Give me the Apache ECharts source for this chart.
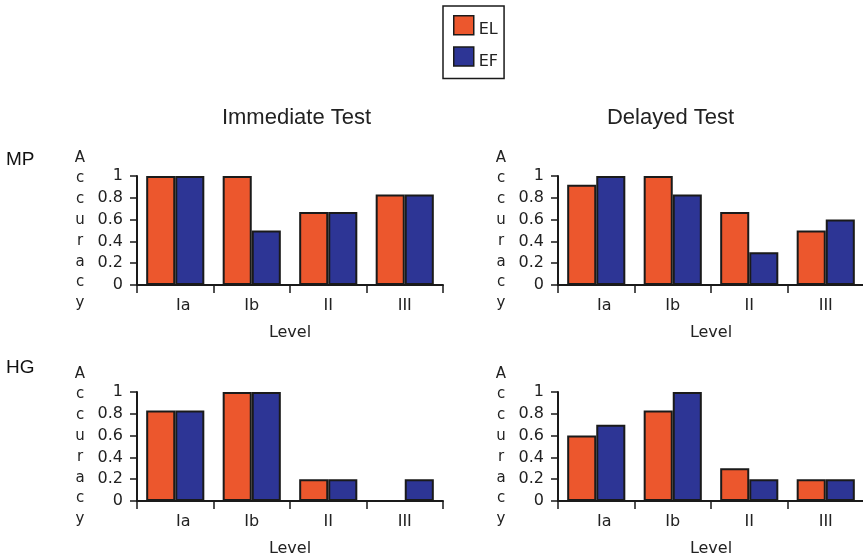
<!DOCTYPE html>
<html>
<head>
<meta charset="utf-8">
<script src="https://cdn.jsdelivr.net/npm/echarts@6/dist/echarts.min.js"></script>
<style>
html,body{margin:0;padding:0;background:#fff;}
#chart{width:863px;height:555px;}
</style>
</head>
<body>
<div id="chart"></div>
<script>
const categories = ['Ia', 'Ib', 'II', 'III'];
const seriesNames = ['EL', 'EF'];
const panelTitles = ['Immediate Test', 'Delayed Test'];
const rowLabels = ['MP', 'HG'];
const yTitle = 'Accuracy';
const xTitle = 'Level';

const mpImmediateEL = [1, 1, 0.67, 0.83];
const mpImmediateEF = [1, 0.5, 0.67, 0.83];
const mpDelayedEL = [0.92, 1, 0.67, 0.5];
const mpDelayedEF = [1, 0.83, 0.3, 0.6];
const hgImmediateEL = [0.83, 1, 0.2, 0];
const hgImmediateEF = [0.83, 1, 0.2, 0.2];
const hgDelayedEL = [0.6, 0.83, 0.3, 0.2];
const hgDelayedEF = [0.7, 1, 0.2, 0.2];

const panels = [
  [mpImmediateEL, mpImmediateEF],
  [mpDelayedEL, mpDelayedEF],
  [hgImmediateEL, hgImmediateEF],
  [hgDelayedEL, hgDelayedEF]
];

const RED = '#EC572D';
const BLUE = '#2D3595';
const DARK = '#1a1a1a';
const TXT = '#222';
const smallFont = 'DejaVu Sans';
const bigFont = 'Liberation Sans, Arial, sans-serif';

const gridBoxes = [
  {left: 137, top: 176, width: 306, height: 109},
  {left: 558, top: 176, width: 306, height: 109},
  {left: 137, top: 392, width: 306, height: 109},
  {left: 558, top: 392, width: 306, height: 109}
];

const grids = gridBoxes.map(g => Object.assign({containLabel: false, outerBoundsMode: 'none'}, g));

const xAxes = gridBoxes.map((g, i) => ({
  type: 'category',
  gridIndex: i,
  data: categories,
  boundaryGap: true,
  axisLine: {show: true, lineStyle: {color: DARK, width: 2}},
  axisTick: {show: true, length: 8, lineStyle: {color: DARK, width: 1.5}},
  axisLabel: {
    margin: 13,
    fontFamily: smallFont,
    fontSize: 16,
    color: TXT,
    formatter: v => v === 'Ia' ? '{a|' + v + '}' : v,
    rich: {a: {padding: [0, 0, 0, 16], fontFamily: smallFont, fontSize: 16, color: TXT}}
  },
  name: xTitle,
  nameLocation: 'middle',
  nameGap: 40,
  nameTextStyle: {fontFamily: smallFont, fontSize: 16, color: TXT}
}));

const yAxes = gridBoxes.map((g, i) => ({
  type: 'value',
  gridIndex: i,
  min: 0,
  max: 1,
  interval: 0.2,
  axisLine: {show: true, lineStyle: {color: DARK, width: 2}},
  axisTick: {show: true, length: 7, lineStyle: {color: DARK, width: 1.5}},
  splitLine: {show: false},
  axisLabel: {margin: 14, fontFamily: smallFont, fontSize: 16, color: TXT},
  name: yTitle.split('').join('\n'),
  nameLocation: 'middle',
  nameRotate: 0,
  nameGap: 57,
  nameTextStyle: {
    fontFamily: smallFont, fontSize: 15, color: TXT,
    lineHeight: 20.8, align: 'center', verticalAlign: 'middle'
  }
}));

const series = [];
panels.forEach((pair, i) => {
  pair.forEach((vals, k) => {
    series.push({
      type: 'bar',
      name: seriesNames[k],
      xAxisIndex: i,
      yAxisIndex: i,
      data: vals,
      barGap: '0%',
      barCategoryGap: '24%',
      itemStyle: {color: k === 0 ? RED : BLUE, borderColor: DARK, borderWidth: 2},
      emphasis: {disabled: true}
    });
  });
});

const graphics = [
  {type: 'text', x: 296.5, y: 118, style: {text: panelTitles[0], font: '22px ' + bigFont, fill: TXT, textAlign: 'center', textVerticalAlign: 'middle'}},
  {type: 'text', x: 670.5, y: 118, style: {text: panelTitles[1], font: '22px ' + bigFont, fill: TXT, textAlign: 'center', textVerticalAlign: 'middle'}},
  {type: 'text', x: 6, y: 160, style: {text: rowLabels[0], font: '19px ' + bigFont, fill: '#111', textAlign: 'left', textVerticalAlign: 'middle'}},
  {type: 'text', x: 6, y: 368, style: {text: rowLabels[1], font: '19px ' + bigFont, fill: '#111', textAlign: 'left', textVerticalAlign: 'middle'}}
];

const chart = echarts.init(document.getElementById('chart'), null, {renderer: 'canvas'});
chart.setOption({
  animation: false,
  backgroundColor: '#fff',
  grid: grids,
  xAxis: xAxes,
  yAxis: yAxes,
  series: series,
  graphic: graphics,
  legend: {
    data: seriesNames,
    orient: 'vertical',
    left: 443,
    top: 6,
    padding: [9, 6, 9, 10],
    itemGap: 8,
    itemWidth: 20,
    itemHeight: 19,
    itemTextGap: 9,
    icon: 'rect',
    borderColor: DARK,
    borderWidth: 1.5,
    itemStyle: {borderColor: DARK, borderWidth: 1.5},
    formatter: n => '{t|' + n + '}',
    textStyle: {
      fontFamily: smallFont, fontSize: 16, color: TXT,
      rich: {t: {fontFamily: smallFont, fontSize: 16, color: TXT, padding: [10, 0, 0, 0]}}
    },
    selectedMode: false
  }
});
</script>
</body>
</html>
